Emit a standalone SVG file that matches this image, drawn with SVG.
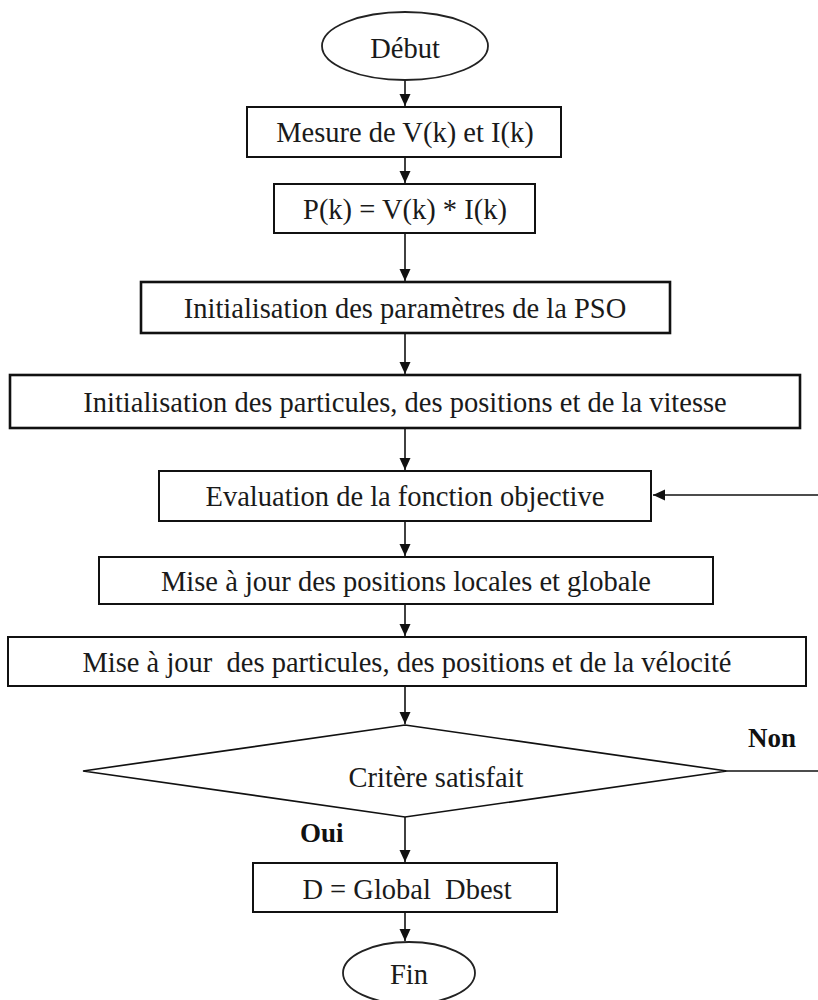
<svg xmlns="http://www.w3.org/2000/svg" width="818" height="1000" viewBox="0 0 818 1000">
  <style>
    .box { fill: #ffffff; stroke: #111111; stroke-width: 2; }
    .box.heavy { stroke-width: 2.6; }
    .decision { fill: #ffffff; stroke: #111111; stroke-width: 1.7; }
    .term { fill: #ffffff; stroke: #222222; stroke-width: 1.8; }
    .lbl { font-family: "Liberation Serif", "Times New Roman", serif; font-size: 28.5px; fill: #1a1a1a; text-anchor: middle; }
    .tag { font-family: "Liberation Serif", "Times New Roman", serif; font-size: 27px; font-weight: bold; fill: #111111; }
    .link { fill: none; stroke: #111111; stroke-width: 1.6; }
  </style>
  <defs>
    <marker id="arrow" markerUnits="userSpaceOnUse" markerWidth="12" markerHeight="14" viewBox="0 0 12 14" refX="12" refY="7" orient="auto">
      <path d="M0,1.5 L12,7 L0,12.5 Z" fill="#111111"/>
    </marker>
  </defs>
  <rect width="818" height="1000" fill="#ffffff"/>

  <!-- connectors -->
  <g id="connectors">
    <line class="link" x1="405" y1="80" x2="405" y2="106" marker-end="url(#arrow)"/>
    <line class="link" x1="405" y1="157" x2="405" y2="183" marker-end="url(#arrow)"/>
    <line class="link" x1="405" y1="233" x2="405" y2="281" marker-end="url(#arrow)"/>
    <line class="link" x1="405" y1="333" x2="405" y2="374" marker-end="url(#arrow)"/>
    <line class="link" x1="405" y1="428" x2="405" y2="470" marker-end="url(#arrow)"/>
    <line class="link" x1="405" y1="521" x2="405" y2="556" marker-end="url(#arrow)"/>
    <line class="link" x1="405" y1="604" x2="405" y2="636" marker-end="url(#arrow)"/>
    <line class="link" x1="405" y1="686" x2="405" y2="724" marker-end="url(#arrow)"/>
    <line class="link" x1="405" y1="817" x2="405" y2="862" marker-end="url(#arrow)"/>
    <line class="link" x1="405" y1="912" x2="405" y2="941" marker-end="url(#arrow)"/>
    <!-- loop back: "Non" branch leaves the decision and re-enters the evaluation step -->
    <line class="link" x1="727" y1="771" x2="818" y2="771" stroke-width="2.4" stroke="#555555"/>
    <line class="link" x1="818" y1="495" x2="653" y2="495" marker-end="url(#arrow)"/>
  </g>

  <g id="debut">
    <ellipse class="term" cx="405" cy="46" rx="83" ry="34"/>
    <text class="lbl" x="405" y="58">Début</text>
  </g>

  <g id="mesure">
    <rect class="box" x="247" y="107" width="314" height="50"/>
    <text class="lbl" x="405" y="142">Mesure de V(k) et I(k)</text>
  </g>

  <g id="puissance">
    <rect class="box" x="274" y="184" width="261" height="49"/>
    <text class="lbl" x="405" y="219">P(k) = V(k) * I(k)</text>
  </g>

  <g id="init-pso">
    <rect class="box heavy" x="141" y="282" width="529" height="51"/>
    <text class="lbl" x="405" y="318">Initialisation des paramètres de la PSO</text>
  </g>

  <g id="init-particules">
    <rect class="box heavy" x="10" y="375" width="790" height="53"/>
    <text class="lbl" x="405" y="412">Initialisation des particules, des positions et de la vitesse</text>
  </g>

  <g id="evaluation">
    <rect class="box" x="159" y="471" width="492" height="50"/>
    <text class="lbl" x="405" y="506">Evaluation de la fonction objective</text>
  </g>

  <g id="maj-positions">
    <rect class="box" x="99" y="557" width="614" height="47"/>
    <text class="lbl" x="406" y="591">Mise à jour des positions locales et globale</text>
  </g>

  <g id="maj-particules">
    <rect class="box" x="8" y="637" width="798" height="49"/>
    <text class="lbl" x="407" y="672" xml:space="preserve">Mise à jour  des particules, des positions et de la vélocité</text>
  </g>

  <g id="critere">
    <polygon class="decision" points="405,725 727,771 405,817 83,771"/>
    <text class="lbl" x="436" y="787">Critère satisfait</text>
    <text class="tag" x="748" y="747">Non</text>
    <text class="tag" x="300" y="842">Oui</text>
  </g>

  <g id="resultat">
    <rect class="box" x="253" y="863" width="304" height="49"/>
    <text class="lbl" x="407" y="899" xml:space="preserve">D = Global  Dbest</text>
  </g>

  <g id="fin">
    <ellipse class="term" cx="409" cy="973" rx="66" ry="31"/>
    <text class="lbl" x="409" y="984">Fin</text>
  </g>
</svg>
